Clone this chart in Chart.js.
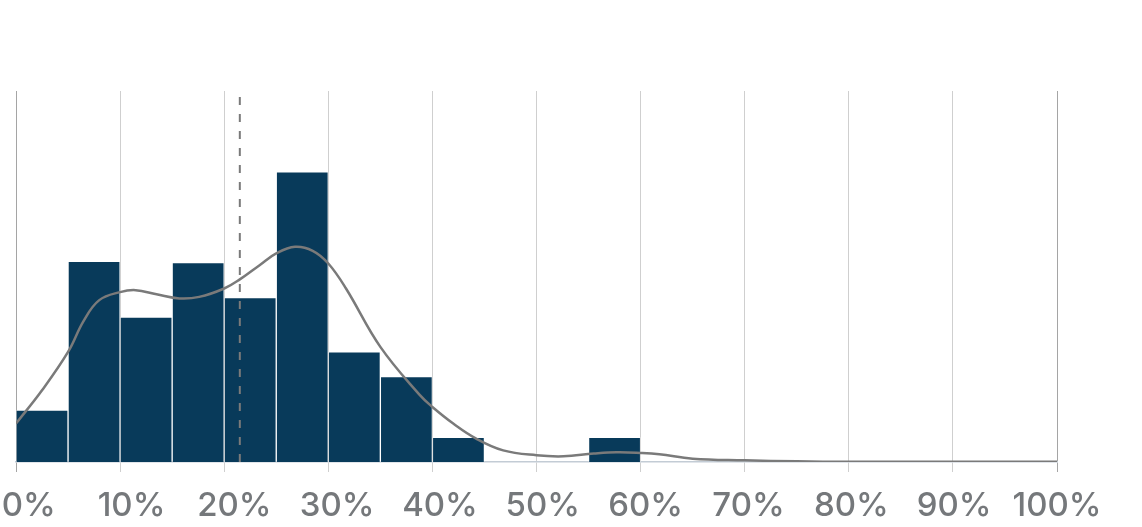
<!DOCTYPE html>
<html>
<head>
<meta charset="utf-8">
<style>
  html, body { margin: 0; padding: 0; background: #fff; }
  #wrap { width: 1142px; height: 527px; }
</style>
<script src="https://cdn.jsdelivr.net/npm/chart.js@4/dist/chart.umd.min.js"></script>
</head>
<body>
<div id="wrap"><canvas id="myChart" width="1142" height="527"></canvas></div>
<script>
// histogram bins (start of each 5% bin) and share of observations per bin
var binStart = [0, 5, 10, 15, 20, 25, 30, 35, 40, 45, 50, 55, 60, 65, 70, 75, 80, 85, 90, 95];
var binShare = [4.0, 15.5, 11.2, 15.4, 12.7, 22.4, 8.5, 6.6, 1.9, 0, 0, 1.9, 0, 0, 0, 0, 0, 0, 0, 0];
var binWidth = 5;

// smoothed density curve, same units as the bars
var densityX = [0, 2.5, 5, 6.5, 8, 10, 11.5, 13.5, 15.7, 17.6, 20, 21.5, 23.4, 25, 26.8, 28.5, 30, 31.7, 35, 38.8, 40, 42, 44.2, 46.8, 50, 52.6, 55.5, 57.7, 60, 61.8, 65, 70, 75, 80, 90, 100];
var densityY = [2.97, 5.54, 8.5, 10.9, 12.5, 13.12, 13.27, 12.95, 12.63, 12.75, 13.4, 14.1, 15.2, 16.11, 16.62, 16.31, 15.33, 13.4, 8.89, 5.16, 4.25, 2.97, 1.81, 0.9, 0.52, 0.44, 0.65, 0.75, 0.7, 0.6, 0.26, 0.13, 0.05, 0.02, 0.02, 0.02];

// dashed marker (average)
var meanValue = 21.5;

var tickValues = [0, 10, 20, 30, 40, 50, 60, 70, 80, 90, 100];
var yMax = 28.65;

var navy = '#083a5a';
var gray = '#7a7a7a';
var labelGray = '#75787b';

window.showChart = function () {
    var ctx = document.getElementById('myChart').getContext('2d');

    var bars = binStart.map(function (s, i) {
        return { x: s + binWidth / 2, y: binShare[i] };
    });
    var curve = densityX.map(function (x, i) {
        return { x: x, y: densityY[i] };
    });

    new Chart(ctx, {
        type: 'bar',
        data: {
            datasets: [{
                type: 'line',
                data: curve,
                borderColor: gray,
                borderWidth: 2.5,
                pointRadius: 0,
                tension: 0.4,
                fill: false,
                order: 1
            }, {
                type: 'line',
                data: [{ x: meanValue, y: 0 }, { x: meanValue, y: yMax }],
                borderColor: gray,
                borderWidth: 2,
                borderDash: [8, 9],
                pointRadius: 0,
                fill: false,
                order: 2
            }, {
                type: 'bar',
                data: bars,
                backgroundColor: navy,
                borderColor: 'rgba(255,255,255,0.3)',
                borderWidth: 1,
                barPercentage: 1,
                categoryPercentage: 1,
                order: 3
            }]
        },
        options: {
            responsive: false,
            animation: false,
            layout: { padding: { top: 91, left: 16, right: 85, bottom: 0 } },
            plugins: { legend: { display: false }, tooltip: { enabled: false } },
            scales: {
                x: {
                    type: 'linear',
                    offset: false,
                    min: 0,
                    max: 100,
                    weight: 0,
                    ticks: { display: false, stepSize: 10 },
                    grid: {
                        offset: false,
                        tickLength: 10,
                        lineWidth: 1,
                        color: function (c) {
                            return (c.index === 0 || c.index === 10) ? '#a5a5a5' : '#cfcfcf';
                        }
                    },
                    border: { color: '#c3ccd5', width: 1.5 }
                },
                x2: {
                    type: 'linear',
                    position: 'bottom',
                    offset: false,
                    min: -1.235,
                    max: 100,
                    weight: 1,
                    afterBuildTicks: function (scale) {
                        scale.ticks = tickValues.map(function (v) { return { value: v }; });
                    },
                    afterFit: function (scale) {
                        scale.paddingLeft = 0;
                        scale.paddingRight = 0;
                        scale.height = 55;
                    },
                    ticks: {
                        autoSkip: false,
                        maxRotation: 0,
                        padding: 6,
                        color: labelGray,
                        font: { family: 'Inter', size: 33, weight: 500 },
                        callback: function (v) { return v + '%'; }
                    },
                    grid: { display: false, offset: false },
                    border: { display: false }
                },
                y: {
                    display: false,
                    min: 0,
                    max: yMax
                }
            }
        }
    });
};

window.showChart();
</script>
</body>
</html>
